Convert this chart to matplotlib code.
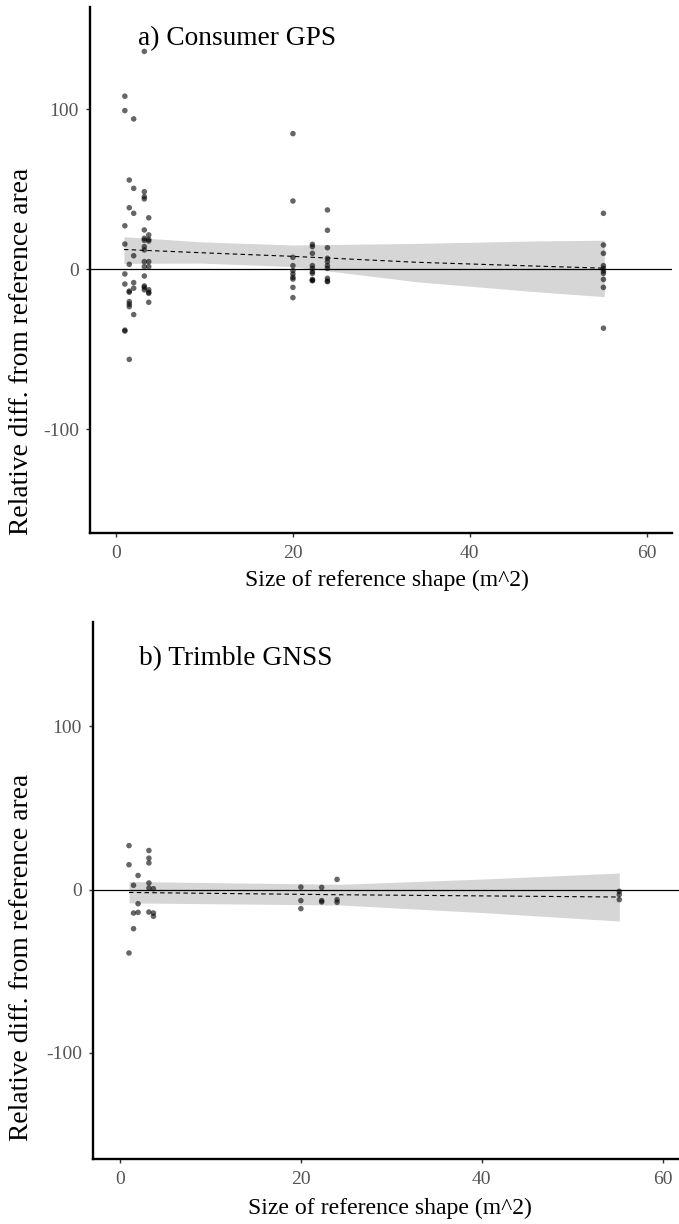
import numpy as np
import matplotlib
matplotlib.use("Agg")
import matplotlib.pyplot as plt

plt.rcParams['font.family'] = ['Liberation Serif', 'DejaVu Serif']

# a) Consumer GPS - size of reference shape (m^2) and relative difference
size_a = [1.0] * 8 + [1.5] * 9 + [2.0] * 7 + [3.2] * 15 + [3.7] * 10 \
    + [20.0] * 10 + [22.2] * 10 + [23.9] * 10 + [55.1] * 10
diff_a = [108, 99, 27, 15.6, -3.1, -9.4, -38.8, -38.2,
          55.6, 38.3, 2.9, -13.8, -14.5, -20.4, -22, -23.5, -56.5,
          93.8, 50.4, 34.8, 8.3, -8.5, -12, -28.5,
          136, 48.3, 45.2, 43.8, 24.4, 19.2, 18, 14, 11.9, 4.6, 1.5, -4.4, -10.6, -11.5, -13,
          32, 21.3, 18.5, 17.5, 4.6, 1.5, -13, -14.6, -15.2, -20.8,
          84.6, 42.5, 7.3, 2.1, -1, -3.1, -5.2, -6.3, -11.5, -17.9,
          15.4, 14, 9.8, 2.1, 0.4, -1.7, -2.7, -6.5, -7.3, -7.1,
          36.9, 24.2, 13.3, 6.7, 4.6, 2.1, 0.4, -5.8, -7.9, -7.5,
          34.8, 15, 9.8, 2.1, 0.4, -1.3, -2.7, -6.5, -11.5, -37]

# linear fit and confidence band
fit_x_a = [0.9, 9.5, 20.0, 34.0, 47.0, 55.2]
fit_a = [12.2, 10.2, 7.9, 4.2, 1.9, 0.5]
lo_a = [3.5, 3.7, 1.5, -8.0, -14.0, -17.3]
hi_a = [20.2, 17.0, 15.0, 16.0, 17.5, 18.0]

# b) Trimble GNSS
size_b = [1.0] * 3 + [1.5] * 3 + [2.0] * 3 + [3.2] * 6 + [3.7] * 3 \
    + [20.0] * 3 + [22.3] * 3 + [24.0] * 3 + [55.2] * 3
diff_b = [27, 15.3, -38.8,
          2.7, -14.3, -23.9,
          8.7, -8.6, -13.9,
          24, 19.3, 16.4, 4.1, 1, -13.7,
          0.6, -14.3, -16.3,
          1.6, -6.7, -11.6,
          1.4, -6.7, -7.5,
          6.3, -6.1, -7.7,
          -1, -3, -6.1]

fit_x_b = [1.0, 24.4, 40.0, 55.2]
fit_b = [-1.7, -3.1, -3.8, -4.5]
lo_b = [-8.1, -9.4, -14.0, -19.2]
hi_b = [5.0, 3.3, 6.5, 10.2]

yticks = [-100, 0, 100]
ytick_labels = ['-100', '0', '100']
xticks = [0, 20, 40, 60]

W, H = 679, 1224
fig = plt.figure(figsize=(W / 100, H / 100), dpi=100)


def make_panel(px_left, px_right, px_top, px_bottom, xlim, ylim,
               x, y, fx, fy, flo, fhi, title, title_xy):
    ax = fig.add_axes([px_left / W, 1 - px_bottom / H,
                       (px_right - px_left) / W, (px_bottom - px_top) / H])
    ax.fill_between(fx, flo, fhi, color='#d6d6d6', lw=0, zorder=1)
    ax.axhline(0, color='black', lw=0.9, zorder=2)
    ax.plot(fx, fy, color='black', lw=0.8, ls=(0, (4, 3)), zorder=3)
    ax.scatter(x, y, s=16, color='black', alpha=0.6, edgecolors='none', zorder=4)
    ax.set_xlim(*xlim)
    ax.set_ylim(*ylim)
    for s in ['top', 'right']:
        ax.spines[s].set_visible(False)
    for s in ['left', 'bottom']:
        ax.spines[s].set_linewidth(1.7)
    ax.set_yticks(yticks)
    ax.set_yticklabels(ytick_labels)
    ax.set_xticks(xticks)
    ax.tick_params(axis='both', length=3, width=1, color='#333333',
                   labelcolor='#555555', labelsize=14)
    ax.tick_params(axis='y', pad=5)
    ax.tick_params(axis='x', pad=6)
    ax.text(title_xy[0], title_xy[1], title, fontsize=19.7, ha='left',
            va='baseline', color='black')
    return ax


make_panel(90, 672, 6.6, 533, (-2.94, 62.85), (-165, 164),
           size_a, diff_a, fit_x_a, fit_a, lo_a, hi_a,
           'a) Consumer GPS', (2.5, 140))
make_panel(93, 679, 622, 1159, (-2.98, 61.8), (-165, 164),
           size_b, diff_b, fit_x_b, fit_b, lo_b, hi_b,
           'b) Trimble GNSS', (2.1, 137.8))

ylab = 'Relative diff. from reference area'
xlab = 'Size of reference shape (m^2)'
fig.text(22 / W, 1 - 351 / H, ylab, rotation=90, ha='center', va='center', fontsize=19.8)
fig.text(22 / W, 1 - 957 / H, ylab, rotation=90, ha='center', va='center', fontsize=19.8)
fig.text(387 / W, 1 - 586 / H, xlab, ha='center', va='baseline', fontsize=17.1)
fig.text(390 / W, 1 - 1214 / H, xlab, ha='center', va='baseline', fontsize=17.1)

fig.savefig('out.png', dpi=100)
